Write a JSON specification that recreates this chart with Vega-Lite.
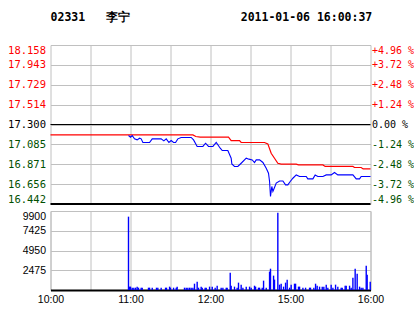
{
  "$schema": "https://vega.github.io/schema/vega-lite/v6.json",
  "background": "white",
  "padding": {"left": 6.5, "top": 12, "right": 0, "bottom": 0},
  "title": {
    "text": "02331\u00a0\u00a0\u00a0李宁\u00a0\u00a0\u00a0\u00a0\u00a0\u00a0\u00a0\u00a0\u00a0\u00a0\u00a0\u00a0\u00a0\u00a0\u00a0\u00a02011-01-06 16:00:37",
    "anchor": "start",
    "frame": "bounds",
    "dx": 43.5,
    "offset": 21,
    "font": "DejaVu Sans Mono",
    "fontSize": 11.5,
    "fontWeight": "bold",
    "color": "#000000"
  },
  "datasets": {
    "price": [
      {"t": 58.5, "p": 17.181}, {"t": 60, "p": 17.163}, {"t": 61.3, "p": 17.181}, {"t": 63, "p": 17.145},
      {"t": 65, "p": 17.134}, {"t": 66.8, "p": 17.152}, {"t": 68, "p": 17.145}, {"t": 69.3, "p": 17.106},
      {"t": 74.3, "p": 17.106}, {"t": 76.3, "p": 17.145}, {"t": 83, "p": 17.145}, {"t": 85, "p": 17.123},
      {"t": 86.8, "p": 17.145}, {"t": 88.8, "p": 17.106}, {"t": 90.5, "p": 17.127}, {"t": 92.3, "p": 17.106},
      {"t": 93.8, "p": 17.106}, {"t": 95.5, "p": 17.145}, {"t": 98, "p": 17.16}, {"t": 105.5, "p": 17.16},
      {"t": 107.3, "p": 17.134}, {"t": 110, "p": 17.063}, {"t": 114.3, "p": 17.063}, {"t": 116.3, "p": 17.098},
      {"t": 118.5, "p": 17.063}, {"t": 121.8, "p": 17.063}, {"t": 124.3, "p": 17.106}, {"t": 127.3, "p": 17.044},
      {"t": 128.8, "p": 17.019}, {"t": 133, "p": 17.019}, {"t": 135.5, "p": 16.936}, {"t": 136, "p": 16.875},
      {"t": 138, "p": 16.847}, {"t": 140.5, "p": 16.847}, {"t": 143, "p": 16.882}, {"t": 146.8, "p": 16.936},
      {"t": 148.8, "p": 16.926}, {"t": 151.3, "p": 16.918}, {"t": 153, "p": 16.89}, {"t": 154.3, "p": 16.918},
      {"t": 156.8, "p": 16.918}, {"t": 159.3, "p": 16.89}, {"t": 161.8, "p": 16.828}, {"t": 163.5, "p": 16.774},
      {"t": 164.3, "p": 16.685}, {"t": 165, "p": 16.523}, {"t": 166, "p": 16.631}, {"t": 166.8, "p": 16.577},
      {"t": 168, "p": 16.62}, {"t": 169.3, "p": 16.667}, {"t": 171.8, "p": 16.691}, {"t": 174.3, "p": 16.691},
      {"t": 176.3, "p": 16.648}, {"t": 178, "p": 16.648}, {"t": 179.8, "p": 16.685}, {"t": 181.8, "p": 16.72},
      {"t": 184.3, "p": 16.756}, {"t": 186.8, "p": 16.739}, {"t": 191.8, "p": 16.739}, {"t": 193, "p": 16.713},
      {"t": 196.8, "p": 16.713}, {"t": 198.5, "p": 16.756}, {"t": 200.5, "p": 16.739}, {"t": 204.3, "p": 16.739},
      {"t": 206.8, "p": 16.756}, {"t": 210.5, "p": 16.756}, {"t": 213, "p": 16.782}, {"t": 215.5, "p": 16.756},
      {"t": 226.8, "p": 16.756}, {"t": 229.3, "p": 16.713}, {"t": 231.8, "p": 16.713}, {"t": 233, "p": 16.739},
      {"t": 240, "p": 16.739}
    ],
    "avg": [
      {"t": 0, "a": 17.188}, {"t": 106.8, "a": 17.188}, {"t": 109, "a": 17.17}, {"t": 112.3, "a": 17.163},
      {"t": 133.5, "a": 17.163}, {"t": 135.5, "a": 17.127}, {"t": 141.8, "a": 17.127}, {"t": 143, "a": 17.106},
      {"t": 160.5, "a": 17.106}, {"t": 163, "a": 17.091}, {"t": 165.5, "a": 16.99}, {"t": 168, "a": 16.936},
      {"t": 170.5, "a": 16.882}, {"t": 173, "a": 16.872}, {"t": 184.3, "a": 16.872}, {"t": 186, "a": 16.864},
      {"t": 204.3, "a": 16.864}, {"t": 206, "a": 16.847}, {"t": 226.8, "a": 16.847}, {"t": 228, "a": 16.836},
      {"t": 233, "a": 16.836}, {"t": 234.5, "a": 16.821}, {"t": 240, "a": 16.821}
    ],
    "vol": [
      {"t": 58.5, "v": 9190}, {"t": 59.3, "v": 420}, {"t": 60, "v": 420}, {"t": 61.3, "v": 290},
      {"t": 62.5, "v": 290}, {"t": 63.8, "v": 290}, {"t": 65, "v": 420}, {"t": 66, "v": 290},
      {"t": 68, "v": 290}, {"t": 68.8, "v": 290}, {"t": 73.5, "v": 290}, {"t": 74.3, "v": 290},
      {"t": 76.3, "v": 290}, {"t": 79.5, "v": 290}, {"t": 80.5, "v": 290}, {"t": 83, "v": 290},
      {"t": 86.3, "v": 290}, {"t": 87, "v": 290}, {"t": 89.3, "v": 420}, {"t": 90, "v": 290},
      {"t": 92.3, "v": 290}, {"t": 94.3, "v": 290}, {"t": 95, "v": 420}, {"t": 100.5, "v": 290},
      {"t": 101.8, "v": 290}, {"t": 103, "v": 290}, {"t": 104.3, "v": 290}, {"t": 105.5, "v": 290},
      {"t": 106.8, "v": 290}, {"t": 108, "v": 790}, {"t": 110, "v": 1040}, {"t": 111, "v": 290},
      {"t": 113, "v": 420}, {"t": 113.8, "v": 290}, {"t": 116, "v": 290}, {"t": 116.8, "v": 290},
      {"t": 119.3, "v": 420}, {"t": 121.3, "v": 420}, {"t": 123.5, "v": 290}, {"t": 125, "v": 540},
      {"t": 128, "v": 290}, {"t": 129.3, "v": 290}, {"t": 131.8, "v": 290}, {"t": 132.5, "v": 290},
      {"t": 134.8, "v": 2170}, {"t": 135.5, "v": 540}, {"t": 138, "v": 420}, {"t": 140, "v": 290},
      {"t": 141, "v": 920}, {"t": 143, "v": 670}, {"t": 144.3, "v": 290}, {"t": 146.8, "v": 420},
      {"t": 149.3, "v": 420}, {"t": 150.5, "v": 290}, {"t": 153, "v": 540}, {"t": 153.8, "v": 420},
      {"t": 156, "v": 290}, {"t": 156.8, "v": 290}, {"t": 158.8, "v": 290}, {"t": 159.8, "v": 1170},
      {"t": 161.8, "v": 290}, {"t": 164.3, "v": 2300}, {"t": 165, "v": 2670}, {"t": 167.3, "v": 1800},
      {"t": 168, "v": 1300}, {"t": 170.5, "v": 9690}, {"t": 171.8, "v": 670}, {"t": 173, "v": 790},
      {"t": 174.8, "v": 420}, {"t": 176.3, "v": 920}, {"t": 177.5, "v": 1300}, {"t": 179.3, "v": 290},
      {"t": 180.5, "v": 670}, {"t": 183, "v": 790}, {"t": 183.8, "v": 790}, {"t": 186, "v": 420},
      {"t": 186.8, "v": 420}, {"t": 189.3, "v": 290}, {"t": 191.3, "v": 290}, {"t": 194.3, "v": 290},
      {"t": 195, "v": 290}, {"t": 197.5, "v": 290}, {"t": 198.8, "v": 790}, {"t": 200, "v": 540},
      {"t": 201.8, "v": 420}, {"t": 203.8, "v": 420}, {"t": 205, "v": 420}, {"t": 206.8, "v": 670},
      {"t": 208, "v": 290}, {"t": 210.5, "v": 670}, {"t": 211.8, "v": 290}, {"t": 213.8, "v": 670},
      {"t": 215.5, "v": 420}, {"t": 218, "v": 290}, {"t": 218.8, "v": 290}, {"t": 221, "v": 540},
      {"t": 221.8, "v": 540}, {"t": 224.3, "v": 540}, {"t": 225.5, "v": 290}, {"t": 226.8, "v": 1550},
      {"t": 228.5, "v": 2670}, {"t": 230, "v": 2050}, {"t": 231.8, "v": 420}, {"t": 233, "v": 290},
      {"t": 234.3, "v": 290}, {"t": 236.8, "v": 3050}, {"t": 237.5, "v": 1920}, {"t": 239.8, "v": 1040}
    ]
  },
  "vconcat": [
    {
      "width": 320,
      "height": 159,
      "layer": [
        {
          "data": {"name": "avg"},
          "mark": {"type": "line", "color": "#FF0000", "strokeWidth": 1.2},
          "encoding": {
            "x": {
              "field": "t", "type": "quantitative",
              "scale": {"domain": [0, 240], "nice": false, "zero": false},
              "axis": {"values": [30, 60, 90, 120, 150, 180, 210], "grid": true, "labels": false, "ticks": false, "domain": false, "title": null}
            },
            "y": {
              "field": "a", "type": "quantitative",
              "scale": {"domain": [16.442, 18.158], "nice": false, "zero": false},
              "axis": {
                "orient": "left",
                "values": [16.442, 16.656, 16.871, 17.085, 17.3, 17.514, 17.729, 17.943, 18.158],
                "labelExpr": "format(datum.value, '.3f')",
                "labelColor": {"expr": "datum.value > 17.31 ? '#FF0000' : (datum.value < 17.29 ? '#005000' : '#000000')"},
                "labelFont": "DejaVu Sans Mono",
                "labelFontSize": 10.5,
                "labelPadding": 5,
                "labelFlush": true,
                "grid": true,
                "ticks": false,
                "tickSize": 0,
                "domain": false,
                "title": null
              }
            }
          }
        },
        {
          "data": {"name": "price"},
          "mark": {"type": "line", "color": "#0000FF", "strokeWidth": 1.1},
          "encoding": {
            "x": {"field": "t", "type": "quantitative"},
            "y": {
              "field": "p", "type": "quantitative",
              "axis": {
                "orient": "right",
                "values": [16.442, 16.656, 16.871, 17.085, 17.3, 17.514, 17.729, 17.943, 18.158],
                "labelExpr": "abs(datum.value - 17.3) < 0.001 ? '\u00a00.00 %' : (datum.value > 17.3 ? '+' : '-') + format(abs(datum.value - 17.3) / 17.3 * 100, '.2f') + ' %'",
                "labelColor": {"expr": "datum.value > 17.31 ? '#FF0000' : (datum.value < 17.29 ? '#005000' : '#000000')"},
                "labelFont": "DejaVu Sans Mono",
                "labelFontSize": 10,
                "labelPadding": 1,
                "labelFlush": true,
                "grid": false,
                "ticks": false,
                "tickSize": 0,
                "domain": false,
                "title": null
              }
            }
          }
        },
        {
          "data": {"values": [{}]},
          "mark": {"type": "rule", "color": "#000000", "strokeWidth": 1},
          "encoding": {"y": {"datum": 17.3, "axis": null}}
        },
        {
          "data": {"values": [{}]},
          "mark": {"type": "rule", "color": "#000000", "strokeWidth": 2},
          "encoding": {"y": {"datum": 16.442, "axis": null}}
        }
      ],
      "resolve": {"axis": {"y": "independent"}}
    },
    {
      "width": 320,
      "height": 79,
      "data": {"name": "vol"},
      "mark": {"type": "bar", "color": "#0000FF", "size": 1.4},
      "encoding": {
        "x": {
          "field": "t", "type": "quantitative",
          "scale": {"domain": [0, 240], "nice": false, "zero": false, "padding": 0},
          "axis": {
            "values": [0, 30, 60, 90, 120, 150, 180, 210, 240],
            "labelExpr": "datum.value == 0 ? '10:00' : datum.value == 60 ? '11:00' : datum.value == 120 ? '12:00' : datum.value == 180 ? '15:00' : datum.value == 240 ? '16:00' : ''",
            "labelFont": "Liberation Sans",
            "labelFontSize": 10.5,
            "labelColor": "#000000",
            "labelPadding": 4,
            "labelFlush": false,
            "grid": true,
            "ticks": false,
            "tickSize": 0,
            "domain": true,
            "domainColor": "#000000",
            "domainWidth": 2,
            "title": null
          }
        },
        "y": {
          "field": "v", "type": "quantitative",
          "scale": {"domain": [0, 9900], "nice": false},
          "axis": {
            "values": [0, 2475, 4950, 7425, 9900],
            "labelExpr": "datum.value == 0 ? '' : format(datum.value, 'd')",
            "labelFont": "Liberation Sans",
            "labelFontSize": 10.5,
            "labelColor": "#000000",
            "labelPadding": 5,
            "labelFlush": true,
            "grid": true,
            "ticks": false,
            "tickSize": 0,
            "domain": false,
            "title": null
          }
        }
      }
    }
  ],
  "spacing": 4,
  "config": {
    "view": {"stroke": "#C0C0C0", "strokeWidth": 1},
    "axis": {"gridColor": "#C0C0C0", "gridOpacity": 1, "gridWidth": 1}
  }
}
